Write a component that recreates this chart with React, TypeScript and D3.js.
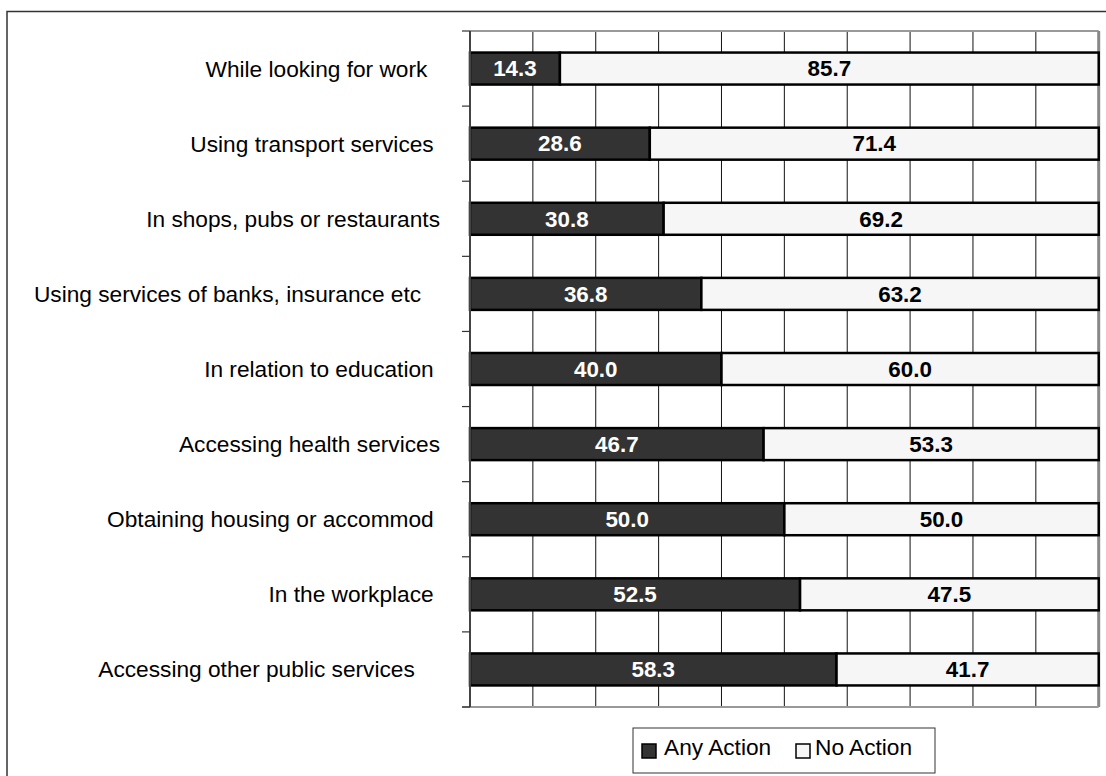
import React from "react";
import * as d3 from "d3";

const categories = [
  "While looking for work  ",
  "Using transport services ",
  "In shops, pubs or restaurants",
  "Using services of banks, insurance etc   ",
  "In relation to education ",
  "Accessing health services",
  "Obtaining housing or accommod ",
  "In the workplace ",
  "Accessing other public services    ",
];
const anyAction = [14.3, 28.6, 30.8, 36.8, 40.0, 46.7, 50.0, 52.5, 58.3];
const noAction = [85.7, 71.4, 69.2, 63.2, 60.0, 53.3, 50.0, 47.5, 41.7];
const seriesNames = ["Any Action", "No Action"];
const gridTicks = d3.range(0, 101, 10);

const W = 1106;
const H = 776;
const plot = { left: 470, right: 1098.7, top: 31, bottom: 707 };
const DARK = "#333333";
const LIGHT = "#f6f6f6";
const FONT = "Arial, 'Liberation Sans', sans-serif";
const LABEL_SIZE = 22.7;

export default function App() {
  const x = d3.scaleLinear().domain([0, 100]).range([plot.left, plot.right]);
  const y = d3
    .scaleBand<string>()
    .domain(categories)
    .range([plot.top, plot.bottom])
    .paddingInner(0)
    .paddingOuter(0);
  const bw = y.bandwidth();
  const barH = 32;
  const boundaries = d3.range(0, categories.length + 1).map((i) => plot.top + i * bw);

  return (
    <svg
      width={W}
      height={H}
      style={{ position: "absolute", left: 0, top: 0, background: "#fff" }}
      fontFamily={FONT}
    >
      {/* outer frame */}
      <rect x={7} y={11.5} width={1130} height={800} fill="#fff" stroke="#333" strokeWidth={1.5} />

      {/* gridlines */}
      {gridTicks.slice(1, -1).map((t) => (
        <line key={t} x1={x(t)} x2={x(t)} y1={plot.top} y2={plot.bottom} stroke="#111" strokeWidth={1} />
      ))}
      {/* plot border */}
      <line x1={plot.left} x2={plot.right} y1={plot.top} y2={plot.top} stroke="#999" strokeWidth={2} />
      <line x1={plot.right} x2={plot.right} y1={plot.top} y2={plot.bottom} stroke="#888" strokeWidth={3} />
      <line x1={plot.left - 8} x2={plot.right} y1={plot.bottom} y2={plot.bottom} stroke="#999" strokeWidth={2} />

      {/* bars */}
      {categories.map((c, i) => {
        const cy = (y(c) as number) + bw / 2;
        const top = cy - barH / 2;
        const a = anyAction[i];
        const n = noAction[i];
        return (
          <g key={c}>
            <rect x={x(0)} y={top} width={x(a) - x(0)} height={barH} fill={DARK} stroke="#000" strokeWidth={2.5} />
            <rect x={x(a)} y={top} width={x(a + n) - x(a)} height={barH} fill={LIGHT} stroke="#000" strokeWidth={2.5} />
            <text x={(x(0) + x(a)) / 2} y={cy + 7.8} textAnchor="middle" fontSize={22.4} fontWeight="bold" fill="#fff">
              {a.toFixed(1)}
            </text>
            <text x={(x(a) + x(a + n)) / 2} y={cy + 7.8} textAnchor="middle" fontSize={22.4} fontWeight="bold" fill="#000">
              {n.toFixed(1)}
            </text>
            <text
              x={440}
              y={cy + 8}
              textAnchor="end"
              fontSize={LABEL_SIZE}
              fill="#000"
              style={{ whiteSpace: "pre" }}
            >
              {c}
            </text>
          </g>
        );
      })}

      {/* left axis */}
      <line x1={plot.left} x2={plot.left} y1={plot.top} y2={plot.bottom} stroke="#444" strokeWidth={2} />
      {boundaries.map((b, i) => (
        <line key={i} x1={plot.left - 8} x2={plot.left} y1={b} y2={b} stroke="#333" strokeWidth={1.2} />
      ))}

      {/* legend */}
      <rect x={633} y={728} width={302} height={45} fill="#fff" stroke="#333" strokeWidth={1} />
      <rect x={642} y={744} width={14} height={14} fill={DARK} stroke="#000" strokeWidth={1.5} />
      <text x={664} y={755} fontSize={LABEL_SIZE} fill="#000">{seriesNames[0]}</text>
      <rect x={796} y={744} width={14} height={14} fill={LIGHT} stroke="#000" strokeWidth={1.5} />
      <text x={815} y={755} fontSize={LABEL_SIZE} fill="#000">{seriesNames[1]}</text>
    </svg>
  );
}
